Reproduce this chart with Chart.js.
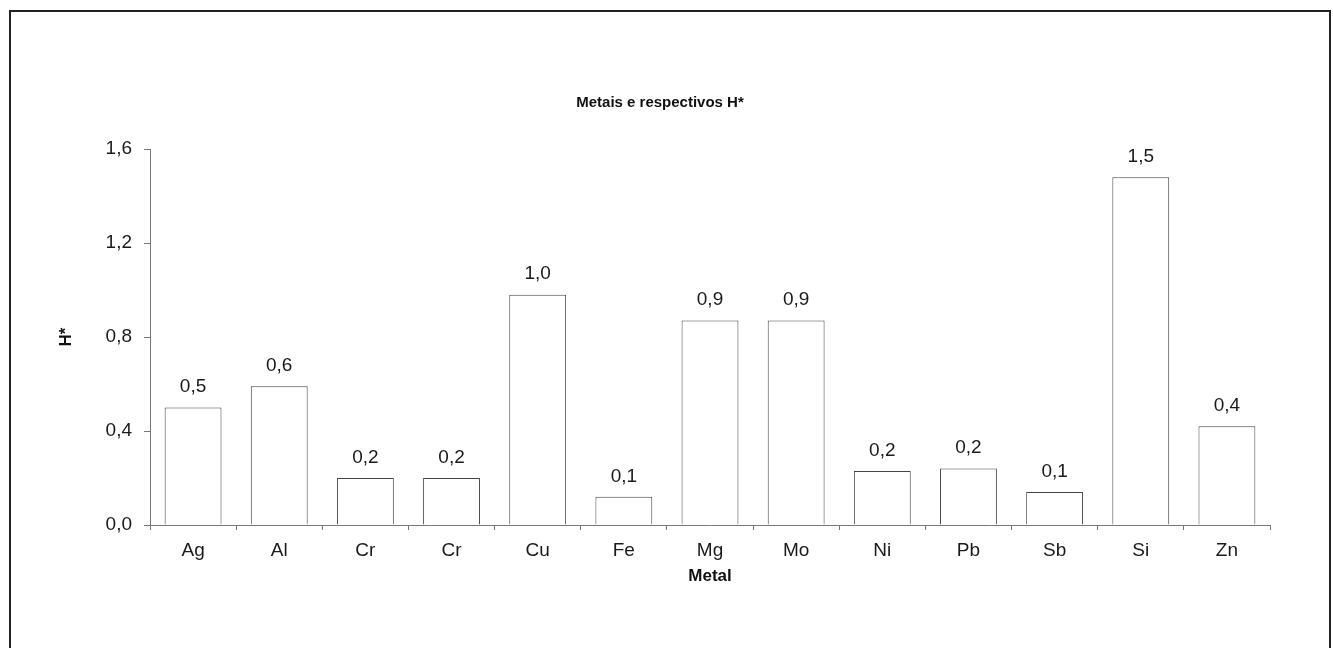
<!DOCTYPE html>
<html>
<head>
<meta charset="utf-8">
<script src="https://cdn.jsdelivr.net/npm/chart.js@4.4.1/dist/chart.umd.min.js"></script>
<style>
    html, body { margin: 0; padding: 0; background: #fff; }
    #wrap { position: relative; width: 1333px; height: 648px; overflow: hidden; }
    #frame {
        position: absolute; left: 9px; top: 10px; width: 1322px; height: 700px;
        border: 2px solid #222; box-sizing: border-box; pointer-events: none;
    }
    canvas { position: absolute; left: 0; top: 0; }
</style>
</head>
<body>
<div id="wrap">
    <canvas id="chart" width="1333" height="648"></canvas>
    <div id="frame"></div>
</div>
<script>
(function() {
    const metals = ['Ag', 'Al', 'Cr', 'Cr', 'Cu', 'Fe', 'Mg', 'Mo', 'Ni', 'Pb', 'Sb', 'Si', 'Zn'];
    const hStar = [0.50, 0.59, 0.20, 0.20, 0.98, 0.12, 0.87, 0.87, 0.23, 0.24, 0.14, 1.48, 0.42];
    const yTicks = [0, 0.4, 0.8, 1.2, 1.6];

    const font = "'Liberation Sans', Arial, sans-serif";
    const axisColour = '#777';

    function comma(v) {
        return v.toFixed(1).replace('.', ',');
    }

    // draws the value over each bar
    const barValues = {
        id: 'barValues',
        afterDatasetsDraw(chart) {
            let ctx = chart.ctx;
            let meta = chart.getDatasetMeta(0);
            ctx.save();
            ctx.font = '19px ' + font;
            ctx.fillStyle = '#1a1a1a';
            ctx.textAlign = 'center';
            ctx.textBaseline = 'bottom';
            meta.data.forEach((bar, i) => {
                ctx.fillText(comma(hStar[i]), bar.x, bar.y - 11);
            });
            ctx.restore();
        },
    };

    new Chart(document.getElementById('chart'), {
        type: 'bar',
        data: {
            labels: metals,
            datasets: [{
                data: hStar,
                backgroundColor: '#fff',
                borderColor: '#444',
                borderWidth: 1,
                categoryPercentage: 1,
                barPercentage: 0.66,
            }],
        },
        options: {
            responsive: false,
            animation: false,
            layout: {
                padding: { left: 50, right: 63, top: 84, bottom: 53 },
            },
            plugins: {
                legend: { display: false },
                tooltip: { enabled: false },
                title: {
                    display: true,
                    text: 'Metais e respectivos H*',
                    color: '#111',
                    font: { family: font, size: 15, weight: 'bold' },
                    padding: { top: 10, bottom: 37 },
                },
            },
            scales: {
                x: {
                    afterFit(scale) { scale.height = 70; },
                    grid: {
                        offset: true,
                        drawOnChartArea: false,
                        tickLength: 5,
                        color: axisColour,
                    },
                    border: { color: axisColour },
                    ticks: {
                        color: '#1a1a1a',
                        padding: 9,
                        font: { family: font, size: 19 },
                    },
                    title: {
                        display: true,
                        text: 'Metal',
                        color: '#111',
                        font: { family: font, size: 17, weight: 'bold' },
                        padding: { top: 4, bottom: 8 },
                    },
                },
                y: {
                    min: 0,
                    max: 1.6,
                    afterFit(scale) { scale.width = 100; },
                    afterBuildTicks(scale) {
                        scale.ticks = yTicks.map(v => ({ value: v }));
                    },
                    grid: {
                        drawOnChartArea: false,
                        tickLength: 6,
                        color: axisColour,
                    },
                    border: { color: axisColour },
                    ticks: {
                        color: '#1a1a1a',
                        padding: 12,
                        font: { family: font, size: 19 },
                        callback: v => comma(v),
                    },
                    title: {
                        display: true,
                        text: 'H*',
                        color: '#111',
                        font: { family: font, size: 17, weight: 'bold' },
                        padding: { top: 6, bottom: 4 },
                    },
                },
            },
        },
        plugins: [barValues],
    });
})();
</script>
</body>
</html>
